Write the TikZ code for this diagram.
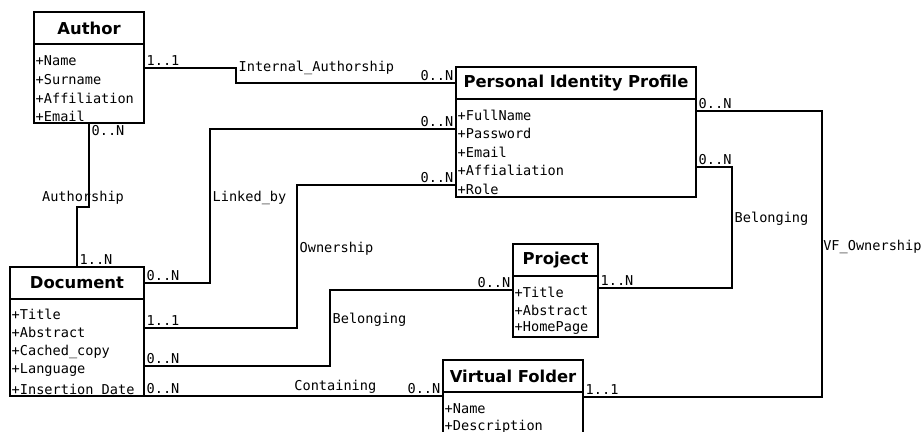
\documentclass[tikz,border=0pt]{standalone}
\usepackage{fontspec}
\setsansfont{DejaVu Sans}
\setmonofont{DejaVu Sans Mono}
\usetikzlibrary{calc,positioning}

\begin{document}
\begin{tikzpicture}[x=0.03cm,y=-0.03cm,
    classhead/.style={draw, line width=1.8pt, inner sep=0, outer sep=0, minimum height=0.96cm,
        font=\sffamily\bfseries\fontsize{14}{16}\selectfont},
    classbody/.style={draw, line width=1.8pt, inner sep=0, outer sep=0},
    attr/.style={anchor=west, inner sep=0, font=\ttfamily\fontsize{11.6}{13}\selectfont},
    link/.style={line width=1.6pt},
    lbl/.style={inner sep=1.5pt, font=\ttfamily\fontsize{11.6}{13}\selectfont}]
        \useasboundingbox (0,0) rectangle (921,432);
        \clip (0,0) rectangle (921,432);

        % classes
        \node[classhead, anchor=north west, minimum width=3.3cm] (author-h) at (34,12) {Author};
        \node[classbody, below=0pt of author-h, minimum width=3.3cm, minimum height=2.37cm] (author-b) {};

        \node[classhead, anchor=north west, minimum width=4.02cm] (doc-h) at (10,267) {Document};
        \node[classbody, below=0pt of doc-h, minimum width=4.02cm, minimum height=2.91cm] (doc-b) {};

        \node[classhead, anchor=north west, minimum width=7.2cm] (pip-h) at (456,67) {Personal Identity Profile};
        \node[classbody, below=0pt of pip-h, minimum width=7.2cm, minimum height=2.94cm] (pip-b) {};

        \node[classhead, anchor=north west, minimum width=2.55cm] (proj-h) at (513,244) {Project};
        \node[classbody, below=0pt of proj-h, minimum width=2.55cm, minimum height=1.84cm] (proj-b) {};

        \node[classhead, anchor=north west, minimum width=4.2cm] (vf-h) at (443,360) {Virtual Folder};
        \node[classbody, below=0pt of vf-h, minimum width=4.2cm, minimum height=1.8cm] (vf-b) {};

        % attributes
        \foreach \txt [count=\i] in {+Name,+Surname,+Affiliation,+Email} {
            \node[attr] (author-a\i) at ($(author-b.north west)+(1.5,{17+(\i-1)*18.5})$) {\txt};
        }
        \foreach \txt [count=\i] in {+Title,+Abstract,+Cached\_copy,+Language,+Insertion Date} {
            \node[attr] (doc-a\i) at ($(doc-b.north west)+(1.5,{15+(\i-1)*18.75})$) {\txt};
        }
        \foreach \txt [count=\i] in {+FullName,+Password,+Email,+Affialiation,+Role} {
            \node[attr] (pip-a\i) at ($(pip-b.north west)+(1.5,{16+(\i-1)*18.5})$) {\txt};
        }
        \foreach \txt [count=\i] in {+Title,+Abstract,+HomePage} {
            \node[attr] (proj-a\i) at ($(proj-b.north west)+(1.5,{16+(\i-1)*18})$) {\txt};
        }
        \foreach \txt [count=\i] in {+Name,+Description} {
            \node[attr] (vf-a\i) at ($(vf-b.north west)+(1.5,{17+(\i-1)*18})$) {\txt};
        }

        % associations
        \draw[link] ($(author-b.north east)+(0,24)$) node[lbl, above right] (ia-from) {1..1}
            -- ++(92,0) node[lbl, right] (ia-name) {Internal\_Authorship}
            |- (pip-h.west) node[lbl, above left] (ia-to) {0..N};

        \draw[link] (author-b.south) node[lbl, below right] (au-from) {0..N}
            -- node[lbl, pos=0.89, xshift=-0.18cm] (au-name) {Authorship} ++(0,84)
            -| (doc-h.north) node[lbl, above right] (au-to) {1..N};

        \draw[link] ($(pip-b.north west)+(0,30)$) node[lbl, above left] (lb-from) {0..N}
            -- ++(-246,0) |- node[lbl, right, pos=0.224] (lb-name) {Linked\_by}
            (doc-h.east) node[lbl, above right] (lb-to) {0..N};

        \draw[link] ($(pip-b.north west)+(0,86)$) node[lbl, above left] (ow-from) {0..N}
            -- ++(-159,0) |- node[lbl, right, pos=0.224] (ow-name) {Ownership}
            ($(doc-b.north east)+(0,29)$) node[lbl, above right] (ow-to) {1..1};

        \draw[link] ($(doc-b.north east)+(0,67)$) node[lbl, above right] (bd-from) {0..N}
            -- ++(186,0) |- node[lbl, right, pos=0.307] (bd-name) {Belonging}
            ($(proj-b.north west)+(0,14)$) node[lbl, above left] (bd-to) {0..N};

        \draw[link] (doc-b.south east) node[lbl, above right] (ct-from) {0..N}
            -- node[lbl, above, pos=0.64] (ct-name) {Containing}
            (doc-b.south east -| vf-b.west) node[lbl, above left] (ct-to) {0..N};

        \draw[link] ($(vf-b.north east)+(0,5)$) node[lbl, above right] (vo-from) {1..1}
            -- ++(239,0) |- node[lbl, right, pos=0.262, inner sep=0.3pt] (vo-name) {VF\_Ownership}
            ($(pip-b.north east)+(0,12)$) node[lbl, above right] (vo-to) {0..N};

        \draw[link] ($(proj-b.north east)+(0,12)$) node[lbl, above right] (bp-from) {1..N}
            -- ++(134,0) |- node[lbl, right, pos=0.285] (bp-name) {Belonging}
            ($(pip-b.north east)+(0,68)$) node[lbl, above right] (bp-to) {0..N};
\end{tikzpicture}
\end{document}
